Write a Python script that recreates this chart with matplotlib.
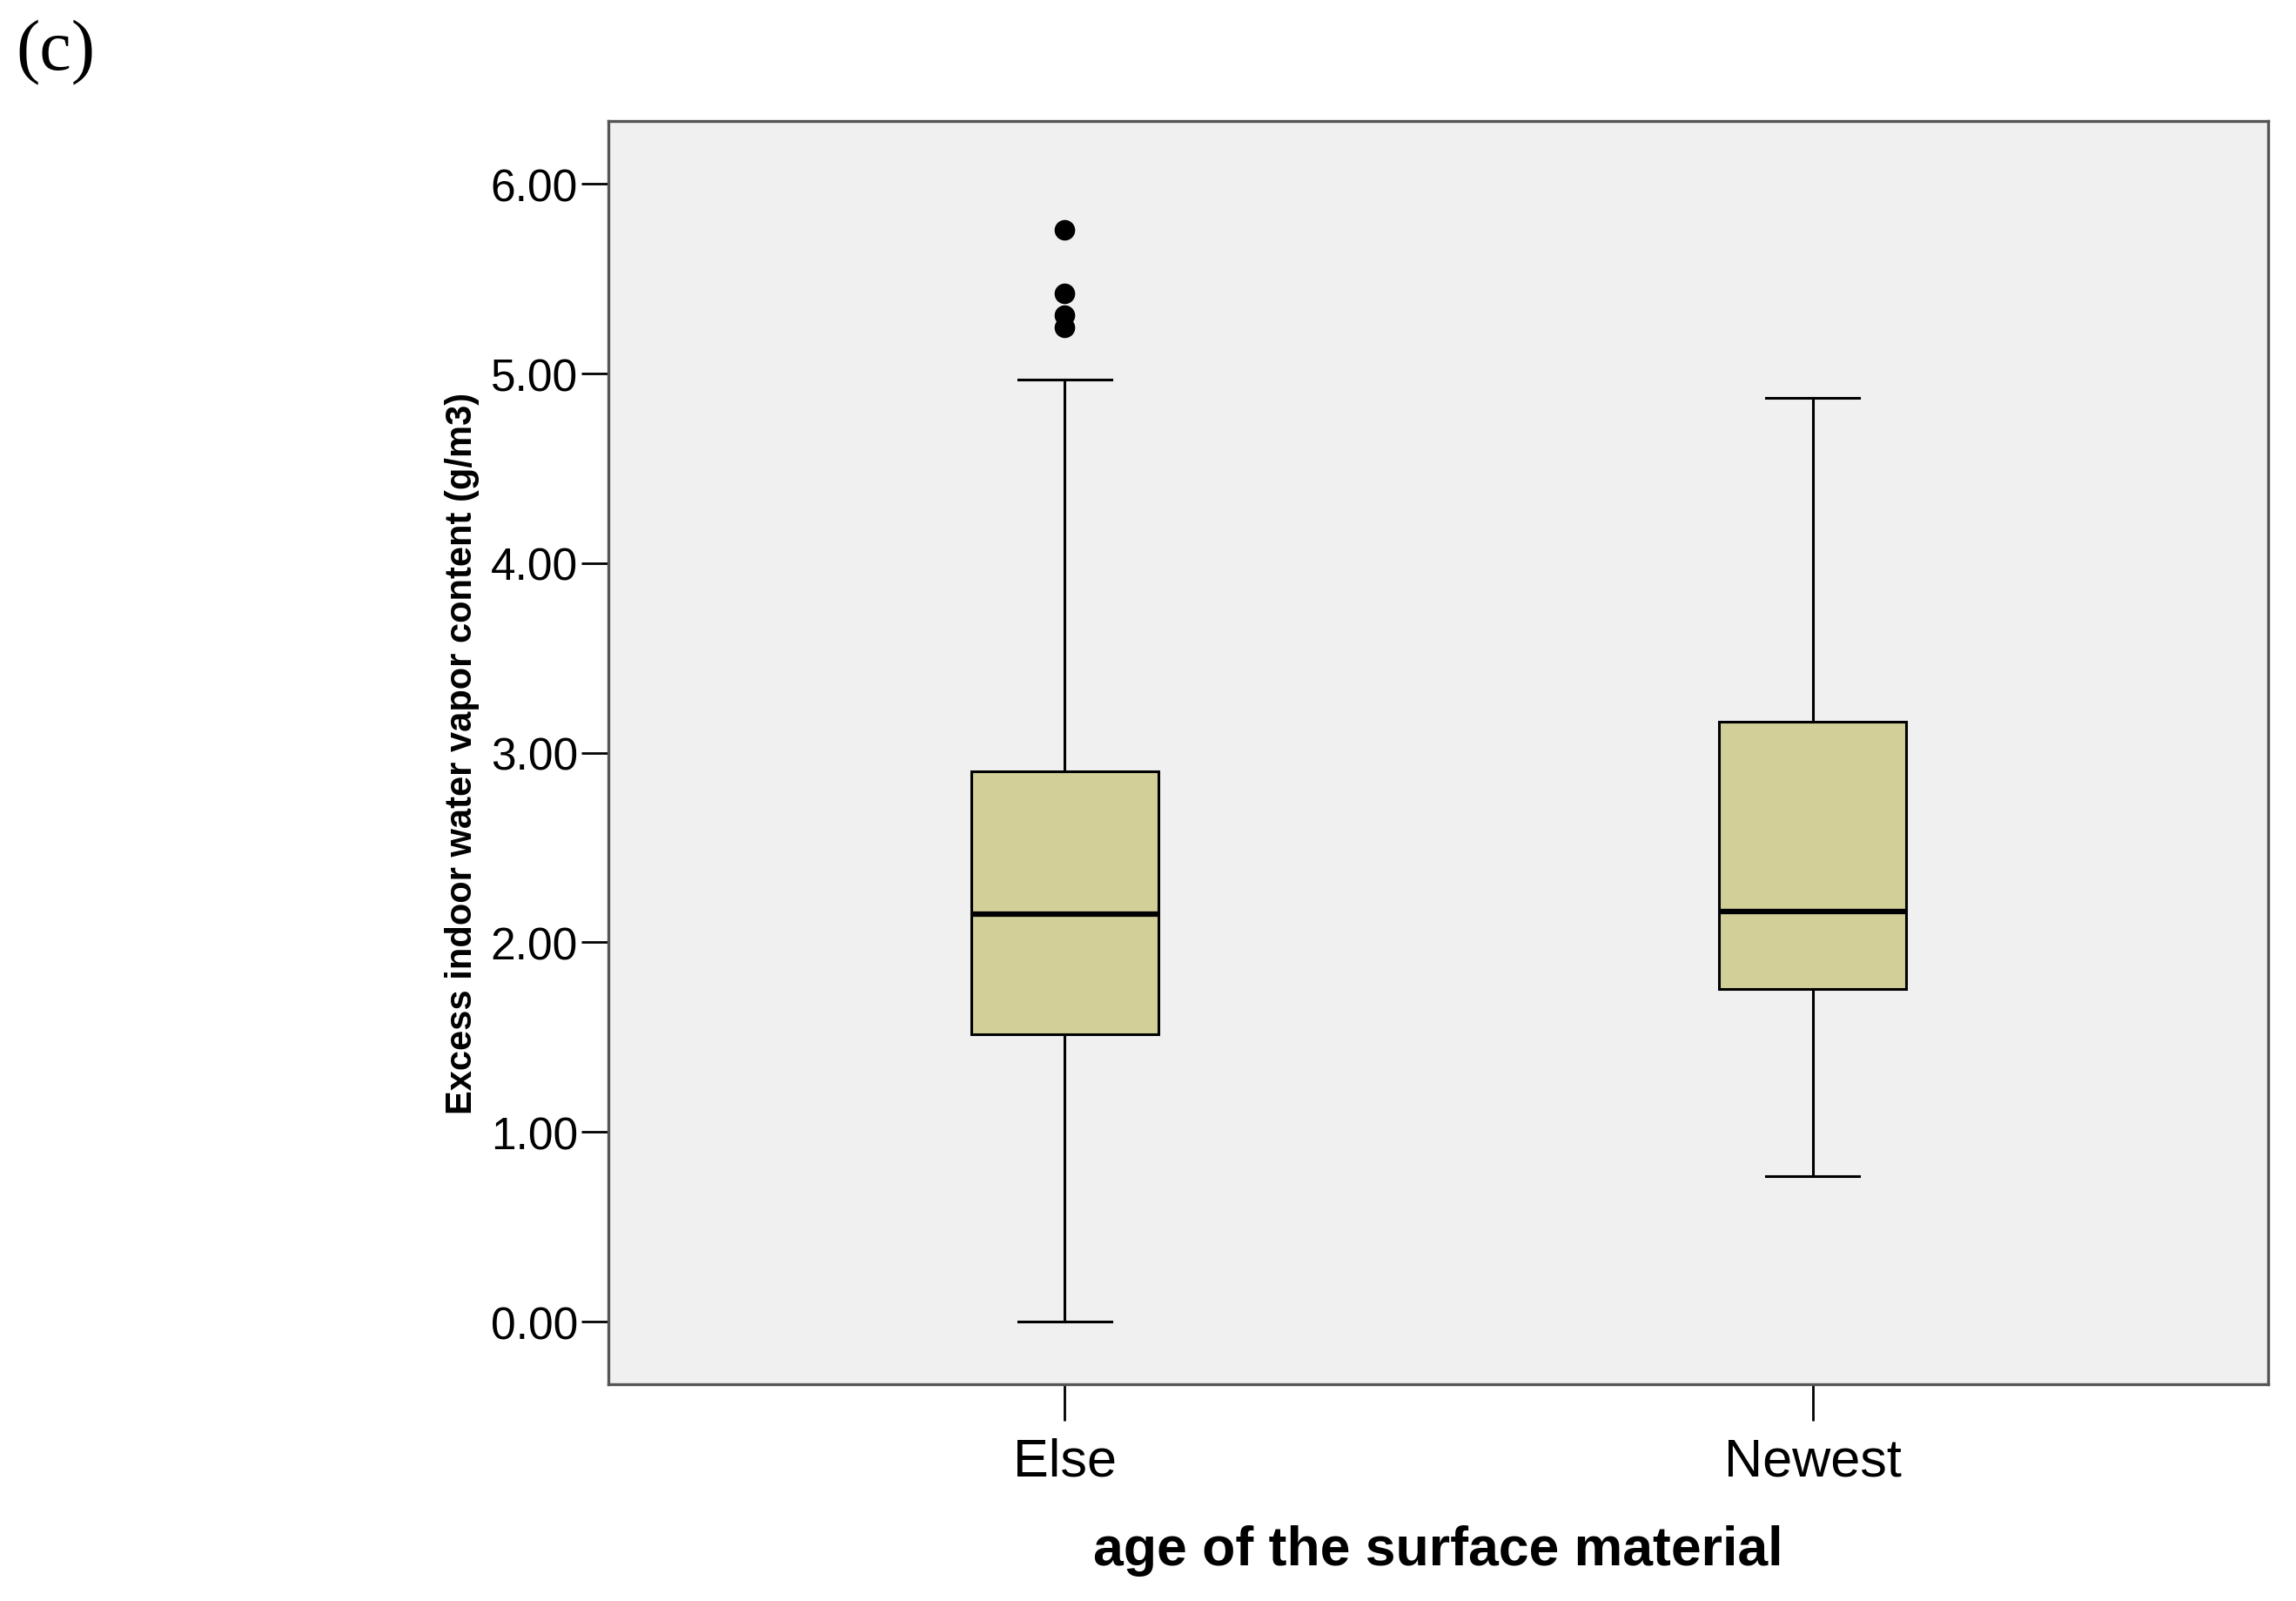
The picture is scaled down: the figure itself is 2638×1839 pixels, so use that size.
import matplotlib
matplotlib.use("Agg")
import matplotlib.pyplot as plt

# ---- data ----
categories = ["Else", "Newest"]
whisker_low = [0.00, 0.766]
q1 = [1.514, 1.756]
median = [2.150, 2.165]
q3 = [2.903, 3.163]
whisker_high = [4.969, 4.870]
outliers_else = [5.757, 5.424, 5.307, 5.245]
outliers_newest = []
y_ticks = [0.0, 1.0, 2.0, 3.0, 4.0, 5.0, 6.0]
y_tick_labels = ["0.00", "1.00", "2.00", "3.00", "4.00", "5.00", "6.00"]

plt.rcParams['font.family'] = ['Liberation Sans', 'DejaVu Sans']

fig = plt.figure(figsize=(26.38, 18.40), dpi=100)
ax = fig.add_axes([0.2648, 0.1355, 0.9878 - 0.2648, 0.9239 - 0.1355])
ax.set_facecolor('#f0f0f0')

fliers = [outliers_else, outliers_newest]
stats = []
for i, c in enumerate(categories):
    stats.append(dict(label=c, whislo=whisker_low[i], q1=q1[i], med=median[i],
                      q3=q3[i], whishi=whisker_high[i], fliers=fliers[i]))

ax.bxp(stats, positions=[0, 1], widths=0.25, capwidths=0.125, patch_artist=True,
       boxprops=dict(facecolor='#d3cf98', edgecolor='black', linewidth=2.2),
       medianprops=dict(color='black', linewidth=4.5),
       whiskerprops=dict(color='black', linewidth=2.2),
       capprops=dict(color='black', linewidth=2.2),
       flierprops=dict(marker='o', markerfacecolor='black', markeredgecolor='black',
                       markersize=16))

ax.set_xlim(-0.611, 1.609)
ax.set_ylim(-0.329, 6.332)
ax.set_yticks(y_ticks)
ax.set_yticklabels(y_tick_labels)
ax.set_xticks([0, 1])
ax.set_xticklabels(categories)

ax.tick_params(axis='y', length=22, width=2.0, pad=3, labelsize=37, colors='black')
ax.tick_params(axis='x', length=30, width=2.0, pad=14, labelsize=44, colors='black')

for s in ax.spines.values():
    s.set_color('#555555')
    s.set_linewidth(2.4)

ax.set_ylabel("Excess indoor water vapor content (g/m3)", fontsize=30,
              fontweight='bold', labelpad=9)
ax.set_xlabel("age of the surface material", fontsize=45, fontweight='bold',
              labelpad=31)

fig.text(0.0068, 0.9874, "(c)", family=['Liberation Serif', 'DejaVu Serif'],
         fontsize=59, va='top', ha='left')

fig.savefig("out.png", dpi=100, facecolor='white')
